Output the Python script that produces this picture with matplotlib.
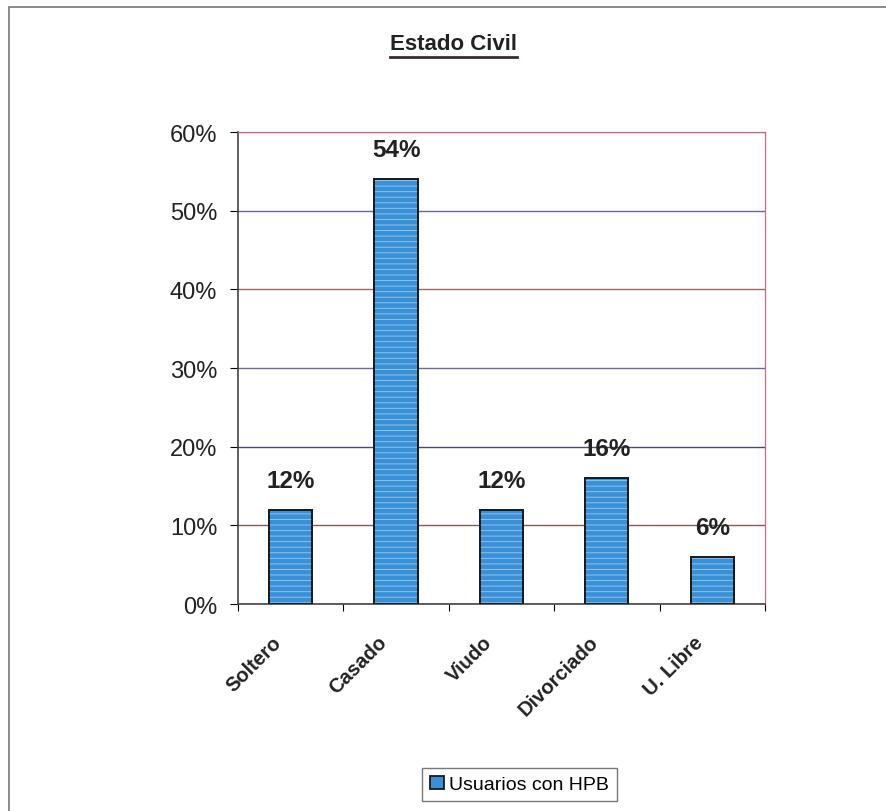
import matplotlib
matplotlib.use("Agg")
import matplotlib.pyplot as plt
import matplotlib.transforms as mtransforms
import numpy as np
from matplotlib.patches import Rectangle

labels = ['Soltero', 'Casado', 'Viudo', 'Divorciado', 'U. Libre']
valores = [12, 54, 12, 16, 6]
serie = 'Usuarios con HPB'

x = np.arange(len(labels))
fuente = 'Liberation Sans'

plt.rcParams['hatch.linewidth'] = 0.7

fig = plt.figure(figsize=(8.87, 8.12), dpi=100)
ax = fig.add_axes([0.2683, 0.2549, 0.5941, 0.5813])

bars = ax.bar(x, valores, 0.41, color='#3a90d6', edgecolor='#1a1a1a',
              linewidth=1.3, label=serie, zorder=3)
# textura de rayas claras dentro de las barras
ax.bar(x, valores, 0.41, facecolor='none', edgecolor='#8cc2ee',
       linewidth=0, hatch='---', zorder=3.5)
ax.bar(x, valores, 0.41, facecolor='none', edgecolor='#1a1a1a',
       linewidth=1.3, zorder=4)

# etiquetas de valor sobre cada barra
for b, v in zip(bars, valores):
    ax.annotate(f'{v}%', (b.get_x() + b.get_width() / 2, v),
                xytext=(0, 13), textcoords='offset points',
                ha='center', va='bottom', fontsize=17.5, fontweight='bold',
                family=fuente, color='#222222')

ax.set_xlim(-0.5, len(labels) - 0.5)
ax.set_ylim(0, 60)
ax.set_yticks(np.arange(0, 61, 10))
ax.set_yticklabels([f'{t}%' for t in range(0, 61, 10)], fontsize=17,
                   family=fuente, color='#222222')
ax.set_xticks(np.arange(-0.5, len(labels)))
ax.set_xticklabels([''] * (len(labels) + 1))
ax.set_xticks(x, minor=True)
ax.set_xticklabels(labels, minor=True, rotation=45, ha='right', va='center',
                   rotation_mode='anchor', fontsize=14.5, fontweight='bold',
                   family=fuente, color='#222222')
ax.tick_params(axis='x', which='minor', length=0, pad=25)
ax.tick_params(axis='x', which='major', length=5, direction='out')
ax.tick_params(axis='y', length=6, direction='out', pad=9)

# desplazar las etiquetas giradas un poco a la izquierda
off = mtransforms.ScaledTranslation(-12 / 100, 0, fig.dpi_scale_trans)
for lbl in ax.get_xticklabels(minor=True):
    lbl.set_transform(lbl.get_transform() + off)

ax.grid(axis='y', linewidth=1.0, zorder=0)
colores_grid = ['#555555', '#8a5a50', '#4a4a70', '#6a6aa0', '#9a6a5a', '#5a6aa8', '#c07080']
for gl, c in zip(ax.get_ygridlines(), colores_grid):
    gl.set_color(c)
for s in ['top', 'right']:
    ax.spines[s].set_color('#c07080')
    ax.spines[s].set_linewidth(0.9)
ax.spines['left'].set_color('#444444')
ax.spines['bottom'].set_color('#444444')
ax.spines['left'].set_linewidth(1.2)
ax.spines['bottom'].set_linewidth(1.2)

fig.text(0.5113, 0.9446, 'Estado Civil', ha='center', va='center',
         fontsize=16, fontweight='bold', family=fuente, color='#222222')
fig.add_artist(plt.Line2D([0.4397, 0.5829], [0.9286, 0.9286],
                          transform=fig.transFigure, color='#3a2a2a', lw=2))

leg = fig.legend(handles=[bars], labels=[serie], loc='upper right',
                 bbox_to_anchor=(0.6956, 0.053),
                 frameon=True, fancybox=False, edgecolor='#555555',
                 handlelength=0.7, handleheight=0.7, handletextpad=0.3,
                 borderpad=0.4, borderaxespad=0,
                 prop={'family': fuente, 'size': 14})
leg.get_frame().set_linewidth(1.0)

fig.add_artist(Rectangle((0.01, -0.01), 1.2, 1.0, transform=fig.transFigure,
                         fill=False, edgecolor='#777777', linewidth=1.2))

plt.savefig('out.png', dpi=100)
print("Graph generated")
